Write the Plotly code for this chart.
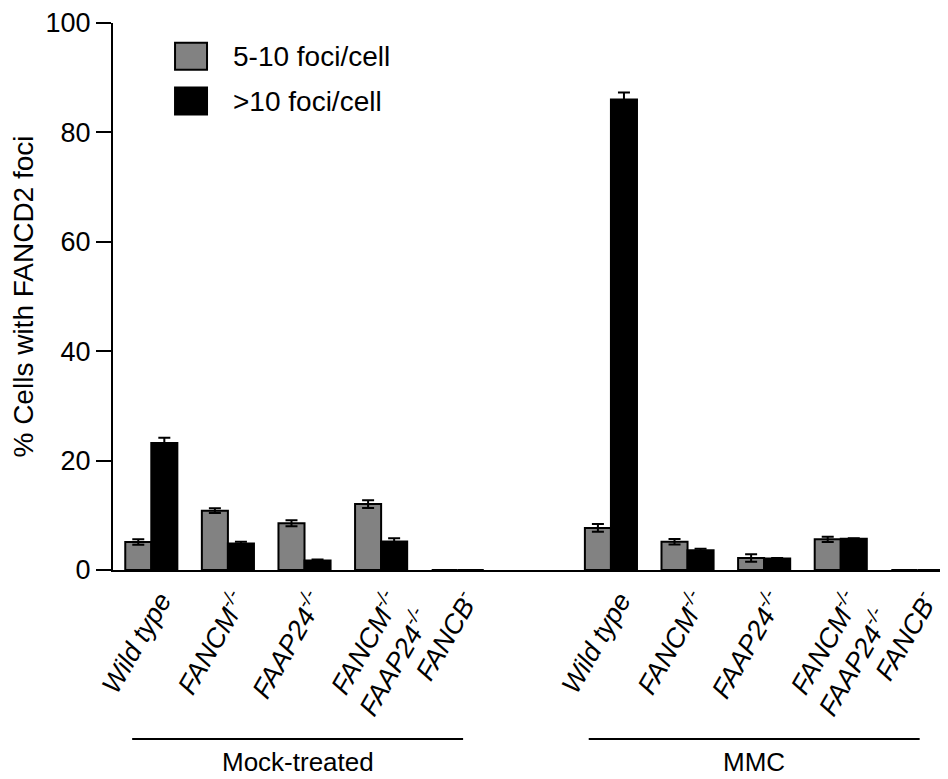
import plotly.graph_objects as go

# ---- data ----
genotypes = ["Wild type", "FANCM<sup>-/-</sup>", "FAAP24<sup>-/-</sup>",
             "FANCM<sup>-/-</sup><br>FAAP24<sup>-/-</sup>", "FANCB<sup>-</sup>"]
treatments = ["Mock-treated", "MMC"]
series_names = ["5-10 foci/cell", ">10 foci/cell"]

mock_5_10 = [5.1, 10.85, 8.55, 12.05, 0]
mock_5_10_err = [0.5, 0.45, 0.55, 0.7, 0]
mock_gt10 = [23.2, 4.85, 1.75, 5.2, 0]
mock_gt10_err = [1.0, 0.3, 0.15, 0.6, 0]

mmc_5_10 = [7.7, 5.15, 2.2, 5.6, 0]
mmc_5_10_err = [0.7, 0.5, 0.7, 0.5, 0]
mmc_gt10 = [86.0, 3.6, 2.1, 5.7, 0]
mmc_gt10_err = [1.3, 0.3, 0.1, 0.1, 0]

y_ticks = [0, 20, 40, 60, 80, 100]

# ---- positions (categories, with an empty slot between treatment groups) ----
n = len(genotypes)
xpos = list(range(n)) + [i + n + 1 for i in range(n)]
ticklabels = ["<i>" + g + "</i>" for g in genotypes] * 2
label_offset = 0.12  # rotated labels sit slightly right of the bar pair centre

FONT = "Liberation Sans, Arial, sans-serif"
GRAY = "#828282"

fig = go.Figure()
fig.add_trace(go.Bar(
    x=xpos, y=mock_5_10 + mmc_5_10, name=series_names[0],
    marker=dict(color=GRAY, line=dict(color="black", width=2)),
    error_y=dict(type="data", array=mock_5_10_err + mmc_5_10_err,
                 color="black", thickness=2, width=6),
    showlegend=False))
fig.add_trace(go.Bar(
    x=xpos, y=mock_gt10 + mmc_gt10, name=series_names[1],
    marker=dict(color="black", line=dict(color="black", width=2)),
    error_y=dict(type="data", array=mock_gt10_err + mmc_gt10_err,
                 color="black", thickness=2, width=6),
    showlegend=False))

fig.update_layout(
    width=940, height=771,
    margin=dict(l=105, r=0, t=12, b=209),
    plot_bgcolor="white", paper_bgcolor="white",
    barmode="group", bargap=0.32, bargroupgap=0,
    font=dict(family=FONT, size=26, color="black"),
    xaxis=dict(
        range=[-0.5, 10.4], tickvals=[p + label_offset for p in xpos],
        ticktext=ticklabels,
        tickangle=-60, ticks="", showgrid=False, zeroline=False,
        showline=True, linecolor="black", linewidth=2,
        tickfont=dict(family=FONT, size=27), ticklabelstandoff=2),
    yaxis=dict(
        range=[0, 100], tickvals=y_ticks, ticks="outside", ticklen=15,
        tickwidth=2, tickcolor="black", showgrid=False, zeroline=False,
        showline=True, linecolor="black", linewidth=2,
        ticklabeloverflow="allow",
        tickfont=dict(family=FONT, size=27),
        title=dict(text="% Cells with FANCD2 foci", font=dict(size=28), standoff=4)),
)

# manual legend
legend_colors = [GRAY, "black"]
for i, (name, col) in enumerate(zip(series_names, legend_colors)):
    y0 = 0.964 - i * 0.0818
    fig.add_shape(type="rect", xref="paper", yref="paper",
                  x0=0.0743, x1=0.1126, y0=y0 - 0.0495, y1=y0,
                  fillcolor=col, line=dict(color="black", width=2))
    fig.add_annotation(xref="paper", yref="paper", x=0.141, y=y0 - 0.025,
                       text=name, showarrow=False, xanchor="left",
                       yanchor="middle", font=dict(size=28))

# treatment group brackets
group_spans = [(-0.25, 4.07), (5.71, 10.03)]
for (a, b), label in zip(group_spans, treatments):
    fig.add_shape(type="line", xref="x", yref="paper", x0=a, x1=b,
                  y0=-0.309, y1=-0.309, line=dict(color="black", width=2))
    fig.add_annotation(xref="x", yref="paper", x=(a + b) / 2, y=-0.351,
                       text=label, showarrow=False, yanchor="middle",
                       font=dict(size=26))

fig.write_html("out.html")
